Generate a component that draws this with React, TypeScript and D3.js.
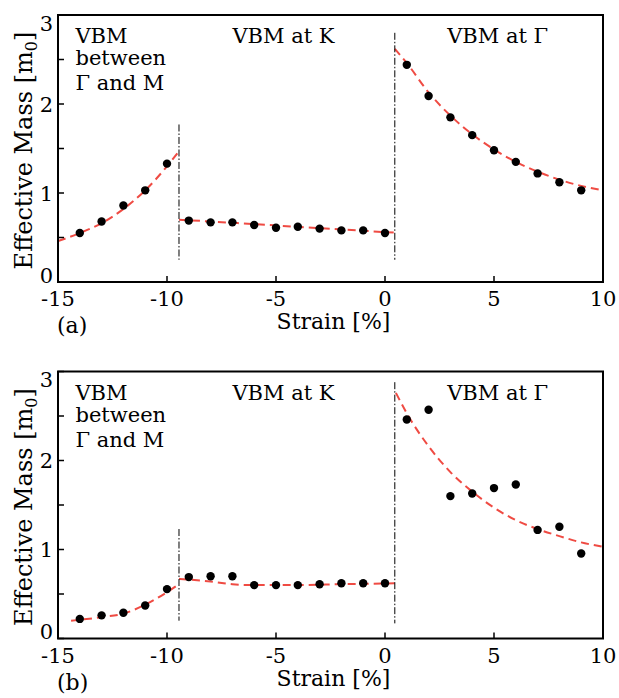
import React from "react";
import * as d3 from "d3";

// strain values [%]
const strainGM = [-14, -13, -12, -11, -10];
const strainK = [-9, -8, -7, -6, -5, -4, -3, -2, -1, 0];
const strainG = [1, 2, 3, 4, 5, 6, 7, 8, 9];

// panel (a) effective masses
const massGM_a = [0.55, 0.68, 0.86, 1.03, 1.33];
const massK_a = [0.69, 0.67, 0.67, 0.64, 0.61, 0.62, 0.6, 0.58, 0.58, 0.55];
const massG_a = [2.44, 2.09, 1.85, 1.65, 1.48, 1.35, 1.22, 1.12, 1.03];

// panel (b) effective masses
const massGM_b = [0.22, 0.26, 0.29, 0.37, 0.555];
const massK_b = [0.69, 0.7, 0.7, 0.6, 0.6, 0.6, 0.61, 0.62, 0.62, 0.62];
const massG_b = [2.46, 2.57, 1.6, 1.63, 1.69, 1.73, 1.22, 1.255, 0.955];

// fitted curves
const fitGMx_a = [-15, -14, -13, -12, -11, -10, -9.45];
const fitGMy_a = [0.46, 0.55, 0.66, 0.82, 1.03, 1.3, 1.47];
const fitKx_a = [-9.45, -8, -6, -4, -2, 0.4];
const fitKy_a = [0.7, 0.68, 0.65, 0.62, 0.59, 0.555];
const fitGx_a = [0.45, 1, 2, 3, 4, 5, 6, 7, 8, 9, 10];
const fitGy_a = [2.62, 2.46, 2.13, 1.87, 1.66, 1.49, 1.35, 1.24, 1.15, 1.08, 1.03];

const fitGMx_b = [-14.4, -13, -12, -11, -10, -9.45];
const fitGMy_b = [0.2, 0.24, 0.28, 0.38, 0.52, 0.61];
const fitKx_b = [-9.45, -8, -7, -6, -4, -2, 0.45];
const fitKy_b = [0.67, 0.64, 0.61, 0.6, 0.6, 0.61, 0.62];
const fitGx_b = [0.5, 1, 2, 3, 4, 5, 6, 7, 8, 9, 10];
const fitGy_b = [2.76, 2.53, 2.16, 1.87, 1.65, 1.47, 1.33, 1.23, 1.15, 1.08, 1.03];

// boundaries between regions
const boundaryX = [-9.45, 0.45];
const boundaryTop_a = [1.77, 2.8];
const boundaryTop_b = [1.23, 2.88];
const boundaryBottom = [0.25, 0.25];
const boundaryBottom_b = [0.2, 0.17];

const xTicks = [-15, -10, -5, 0, 5, 10];
const yTicks = [0, 1, 2, 3];
const yMinor = [0.5, 1.5, 2.5];

const W = 619;
const H = 698;
const FONT = "DejaVu Serif";
const RED = "#ef4b43";

const x = d3.scaleLinear().domain([-15, 10]).range([58, 603]);

type PanelProps = {
  top: number;
  label: string;
  gm: number[];
  k: number[];
  g: number[];
  fits: [number[], number[]][];
  bTop: number[];
  bBottom: number[];
};

const Panel = ({ top, label, gm, k, g, fits, bTop, bBottom }: PanelProps) => {
  const y = d3.scaleLinear().domain([0, 3]).range([top + 267, top]);
  const line = d3
    .line<[number, number]>()
    .x((d) => x(d[0]))
    .y((d) => y(d[1]))
    .curve(d3.curveMonotoneX);

  const points = [
    ...strainGM.map((s, i) => [s, gm[i]]),
    ...strainK.map((s, i) => [s, k[i]]),
    ...strainG.map((s, i) => [s, g[i]]),
  ];
  const [x0, x1] = x.range();
  const [yb, yt] = y.range();

  return (
    <g fontFamily={FONT}>
      {fits.map(([fx, fy], i) => (
        <path
          key={i}
          d={line(fx.map((v, j) => [v, fy[j]] as [number, number])) || ""}
          fill="none"
          stroke={RED}
          strokeWidth={2}
          strokeDasharray="8,5"
        />
      ))}
      {boundaryX.map((bx, i) => (
        <line
          key={i}
          x1={x(bx)}
          x2={x(bx)}
          y1={y(bTop[i])}
          y2={y(bBottom[i])}
          stroke="#000"
          strokeWidth={1}
          strokeDasharray="7,2,1.5,2"
        />
      ))}
      {points.map((p, i) => (
        <circle key={i} cx={x(p[0])} cy={y(p[1])} r={4.2} fill="#000" />
      ))}
      <rect x={x0} y={yt} width={x1 - x0} height={yb - yt} fill="none" stroke="#000" strokeWidth={2} />
      {yTicks.concat(yMinor).map((t) => (
        <line key={"y" + t} x1={x0} x2={x0 + 6} y1={y(t)} y2={y(t)} stroke="#000" strokeWidth={1.5} />
      ))}
      {xTicks.map((t) => (
        <line key={"x" + t} x1={x(t)} x2={x(t)} y1={yb} y2={yb - 6} stroke="#000" strokeWidth={1.5} />
      ))}
      {yTicks.map((t) => (
        <text
          key={"yl" + t}
          x={x0 - 5}
          y={y(t) + (t === 0 ? -7 : t === 3 ? 8 : 0)}
          dy="0.36em"
          fontSize={21}
          textAnchor="end"
        >
          {t}
        </text>
      ))}
      {xTicks.map((t) => (
        <text key={"xl" + t} x={x(t)} y={yb + 24} fontSize={21} textAnchor="middle">
          {t}
        </text>
      ))}
      <text x={(x0 + x1) / 2 + 3} y={yb + 47} fontSize={22} textAnchor="middle">
        Strain [%]
      </text>
      <text x={57} y={yb + 51} fontSize={22}>
        {label}
      </text>
      <text
        transform={`translate(32,${(yb + yt) / 2 + 2}) rotate(-90)`}
        fontSize={24}
        textAnchor="middle"
      >
        Effective Mass [m
        <tspan fontSize={16} dy={5}>
          0
        </tspan>
        <tspan dy={-5}>]</tspan>
      </text>
      <g fontSize={21}>
        <text x={x(-14.2)} y={yt + 28}>VBM</text>
        <text x={x(-14.2)} y={yt + 50}>between</text>
        <text x={x(-14.2)} y={yt + 75}>Γ and M</text>
        <text x={x(-7)} y={yt + 28}>VBM at K</text>
        <text x={x(2.85)} y={yt + 28}>VBM at Γ</text>
      </g>
    </g>
  );
};

export default function App() {
  return (
    <svg width={W} height={H} style={{ position: "absolute", left: 0, top: 0, background: "#fff" }}>
      <rect width={W} height={H} fill="#fff" />
      <Panel
        top={15}
        label="(a)"
        gm={massGM_a}
        k={massK_a}
        g={massG_a}
        fits={[
          [fitGMx_a, fitGMy_a],
          [fitKx_a, fitKy_a],
          [fitGx_a, fitGy_a],
        ]}
        bTop={boundaryTop_a}
        bBottom={boundaryBottom}
      />
      <Panel
        top={371.5}
        label="(b)"
        gm={massGM_b}
        k={massK_b}
        g={massG_b}
        fits={[
          [fitGMx_b, fitGMy_b],
          [fitKx_b, fitKy_b],
          [fitGx_b, fitGy_b],
        ]}
        bTop={boundaryTop_b}
        bBottom={boundaryBottom_b}
      />
    </svg>
  );
}
